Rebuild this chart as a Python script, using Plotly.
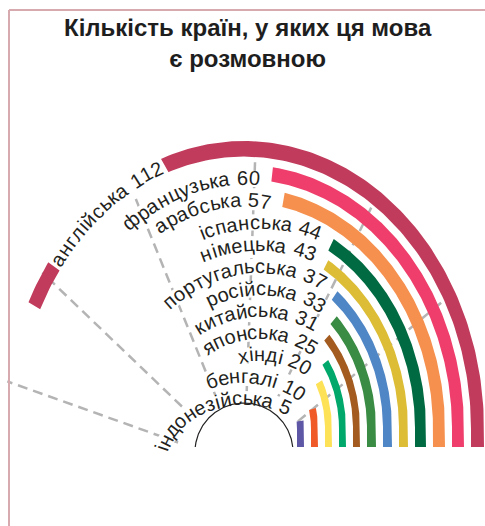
import numpy as np
import plotly.graph_objects as go

# ---------------- data ----------------
languages = ["індонезійська", "бенгалі", "хінді", "японська", "китайська", "російська",
             "португальська", "німецька", "іспанська", "арабська", "французька", "англійська"]
countries = [5, 10, 20, 25, 31, 33, 37, 43, 44, 57, 60, 112]
grid_values = [20, 40, 60, 80, 100, 120]
title_text = "Кількість країн, у яких ця мова<br>є розмовною"

# ---------------- style / layout ----------------
colors = ["#5e57a6", "#f05a28", "#fde157", "#00a86b", "#a35b1f", "#3a8c44",
          "#4f86c6", "#dcbd35", "#006b42", "#f6904e", "#ef3e6b", "#c13b5c"]
thick = [7, 7, 7, 7, 7, 9, 9, 9, 11, 12, 12, 13]
W, H = 485, 526
OX, OY = 244, 447          # pixel position of the data origin (centre of the baseline)
RING_CY = 18               # ring centre above the baseline
K = 1.2                    # vertical stretch of the rings
LAB_CY = -19               # centre of the label paths and gridlines
LAB_B0, LAB_DB = 68, 22    # label rows (vertical radii)
LAB_SHIFT = 16             # horizontal shift of the label path centre (outer rows)
LAB_LIFT = 6               # label end sits a little above the bar end
HOLE_CY, HOLE_R = -5, 49
ANG_MAX = 131.0            # value that spans 180 degrees
GRID_A0, GRID_S = 15.5, 1.207
GRID_T0 = 70
GAP = 7
R0 = 53
FONT = "Liberation Sans, Arial, sans-serif"
FONT_SIZE = 20
SPACING = 0.8
LABEL_GAP = 11
INSIDE_OFFSET = 47
TXT = "#231f20"

deg = np.pi / 180

r_in = []
r = R0
for t in thick:
    r_in.append(r)
    r += t + GAP
r_in = np.array(r_in, float)
r_out = r_in + np.array(thick, float)
r_mid = (r_in + r_out) / 2
phi_end = np.array(countries, float) * 180.0 / ANG_MAX * deg


def ring_xy(rr, ph):
    return rr * np.cos(ph), RING_CY + K * rr * np.sin(ph)


CW = {'а': .556, 'б': .573, 'в': .531, 'г': .365, 'д': .583, 'е': .556, 'є': .52, 'ж': .669,
      'з': .458, 'и': .559, 'й': .559, 'і': .222, 'ї': .278, 'к': .438, 'л': .583, 'м': .688,
      'н': .552, 'о': .556, 'п': .542, 'р': .556, 'с': .5, 'т': .458, 'у': .5, 'ф': .823,
      'х': .5, 'ц': .573, 'ч': .521, 'ш': .802, 'щ': .823, 'ь': .521, 'ю': .75, 'я': .542, ' ': .278}


def char_w(c):
    return (0.556 if c.isdigit() else CW.get(c, 0.55)) * FONT_SIZE


t_grid = np.linspace(-30 * deg, 210 * deg, 6000)


def path_len(A, B):
    ds = np.sqrt((A * np.sin(t_grid)) ** 2 + (B * np.cos(t_grid)) ** 2)
    return np.concatenate([[0], np.cumsum(0.5 * (ds[1:] + ds[:-1]) * np.diff(t_grid))])


fig = go.Figure()

# ---- gridlines (radial, from the label centre up to the outer ring) ----
R_OUT_MAX = r_out[-1]
gx, gy = [], []
for gv in grid_values:
    a = (GRID_A0 + GRID_S * gv) * deg
    t = np.linspace(GRID_T0, 420, 3000)
    x = t * np.cos(a)
    y = LAB_CY + t * np.sin(a)
    outside = (x / R_OUT_MAX) ** 2 + ((y - RING_CY) / (K * R_OUT_MAX)) ** 2 >= 1
    t_end = t[np.argmax(outside)] if outside.any() else t[-1]
    gx += [GRID_T0 * np.cos(a), t_end * np.cos(a), None]
    gy += [LAB_CY + GRID_T0 * np.sin(a), LAB_CY + t_end * np.sin(a), None]
fig.add_trace(go.Scatter(x=gx, y=gy, mode="lines",
                         line=dict(color="#b4b4b4", width=2.5, dash="10px,6px"),
                         hoverinfo="skip"))

# ---- labels: text set along elliptic paths ----
annotations = []
halo_x, halo_y = [], []
eng_halo_x, eng_halo_y = [], []
longest = int(np.argmax(countries))
for i, (lang, v) in enumerate(zip(languages, countries)):
    text = f"{lang} {v}"
    ws = [char_w(c) for c in text]
    total = sum(ws) + SPACING * (len(text) - 1)
    centers = []
    offs = 0.0
    for w in ws:
        centers.append(offs + w / 2)
        offs += w + SPACING
    ex, ey = ring_xy(r_mid[i], phi_end[i])
    if i != longest:
        cy = LAB_CY
        B = LAB_B0 + LAB_DB * i
        dy = ey - cy + LAB_LIFT
        if dy < B:
            cx = LAB_SHIFT if i >= 2 else 0.0
            A = max(r_mid[i] - cx, (ex - cx) / np.sqrt(1 - (dy / B) ** 2))
        else:
            cx = 0.0
            A = r_mid[i]
        aE = np.arctan2(dy, ex - cx)
        tE = np.arctan2(A * np.sin(aE), B * np.cos(aE))
        S = path_len(A, B)
        s_lab0 = np.interp(tE, t_grid, S) + LABEL_GAP          # clockwise end of the text
        s_of = lambda cc: s_lab0 + total - cc
        halo_rng = (s_lab0 - 2, s_lab0 + total + 2)
    else:
        cx, cy = 0.0, RING_CY
        A = r_mid[i]
        B = K * r_mid[i]
        S = path_len(A, B)
        s_start = np.interp(phi_end[i], t_grid, S) - INSIDE_OFFSET
        s_of = lambda cc: s_start - cc
        halo_rng = (s_start - total - 3, s_start + 3)
    for c, cc in zip(text, centers):
        if c == " ":
            continue
        tt = np.interp(s_of(cc), S, t_grid)
        annotations.append(dict(x=cx + A * np.cos(tt), y=cy + B * np.sin(tt), xref="x", yref="y",
                                text=c, showarrow=False,
                                textangle=np.degrees(np.arctan2(B * np.cos(tt), A * np.sin(tt))),
                                xanchor="center", yanchor="middle",
                                font=dict(family=FONT, size=FONT_SIZE, color=TXT)))
    hs = np.linspace(halo_rng[0], halo_rng[1], 80)
    ht = np.interp(hs, S, t_grid)
    hx = list(cx + A * np.cos(ht)) + [None]
    hy = list(cy + B * np.sin(ht)) + [None]
    if i == longest:
        eng_halo_x += hx
        eng_halo_y += hy
    else:
        halo_x += hx
        halo_y += hy

fig.add_trace(go.Scatter(x=halo_x, y=halo_y, mode="lines",
                         line=dict(color="white", width=16), hoverinfo="skip"))

# ---- hole outline ----
a0 = np.arcsin(-HOLE_CY / HOLE_R)
hp = np.linspace(a0, np.pi - a0, 200)
fig.add_trace(go.Scatter(x=HOLE_R * np.cos(hp), y=HOLE_CY + HOLE_R * np.sin(hp), mode="lines",
                         line=dict(color="#222222", width=1.2), hoverinfo="skip"))

# ---- bars: vertical leg from the baseline, then an elliptic arc ----
for i in range(len(countries)):
    po = np.linspace(0, phi_end[i], 160)
    xo, yo = ring_xy(r_out[i], po)
    xi, yi = ring_xy(r_in[i], po[::-1])
    xs = np.concatenate([[r_out[i]], xo, xi, [r_in[i]]])
    ys = np.concatenate([[0], yo, yi, [0]])
    fig.add_trace(go.Scatter(x=xs, y=ys, mode="lines", fill="toself",
                             fillcolor=colors[i], line=dict(width=0, color=colors[i]),
                             hoverinfo="skip"))

fig.add_trace(go.Scatter(x=eng_halo_x, y=eng_halo_y, mode="lines",
                         line=dict(color="white", width=20), hoverinfo="skip"))

# ---- title ----
annotations.append(dict(x=248 / W, y=1 - 12 / H, xref="paper", yref="paper",
                        text=title_text, showarrow=False, xanchor="center", yanchor="top",
                        font=dict(family=FONT, size=24, color="#1e1e1e", weight="bold")))

shapes = [
    dict(type="line", xref="paper", yref="paper", x0=9 / W, x1=9 / W, y0=-0.05, y1=1 - 10 / H,
         line=dict(color="#d6aaae", width=2)),
    dict(type="line", xref="paper", yref="paper", x0=9 / W, x1=1.05, y0=1 - 10 / H, y1=1 - 10 / H,
         line=dict(color="#d6aaae", width=2)),
]

fig.update_layout(
    width=W, height=H, margin=dict(l=0, r=0, t=0, b=0),
    showlegend=False, plot_bgcolor="white", paper_bgcolor="white",
    xaxis=dict(visible=False, range=[-OX, W - OX]),
    yaxis=dict(visible=False, range=[OY - H, OY]),
    annotations=annotations, shapes=shapes,
)

fig.write_html("out.html", config={"displayModeBar": False},
               post_script="document.body.style.margin='0';document.body.style.overflow='hidden';")
